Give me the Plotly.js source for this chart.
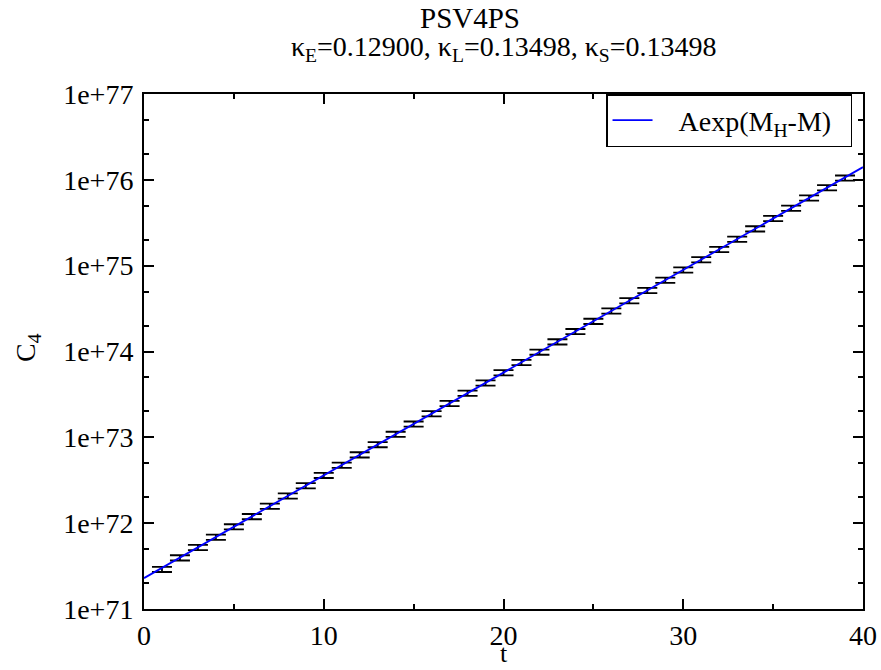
<!DOCTYPE html>
<html>
<head>
<meta charset="utf-8">
<script src="https://cdn.plot.ly/plotly-3.0.1.min.js"></script>
<style>html,body{margin:0;padding:0;background:#fff;}#chart{width:881px;height:670px;}</style>
</head>
<body>
<div id="chart"></div>
<script>
// Measured correlator C4 at each time slice t
const tValues = [1,2,3,4,5,6,7,8,9,10,11,12,13,14,15,16,17,18,19,20,
                 21,22,23,24,25,26,27,28,29,30,31,32,33,34,35,36,37,38,39];
const c4Values = [2.90e71,3.95e71,5.22e71,6.88e71,9.08e71,1.195e72,1.575e72,2.08e72,2.74e72,3.61e72,
                  4.75e72,6.26e72,8.24e72,1.086e73,1.43e73,1.885e73,2.48e73,3.27e73,4.31e73,5.68e73,
                  7.48e73,9.85e73,1.298e74,1.71e74,2.25e74,2.97e74,3.91e74,5.15e74,6.78e74,8.93e74,
                  1.177e75,1.55e75,2.04e75,2.69e75,3.55e75,4.67e75,6.15e75,8.11e75,1.05e76];
// relative error (percent) of each point
const c4ErrPct = [7,7,7,7,7,7,7,7,7,7,7,7,7,7,7,7,7,7,7,7,
                  7,7,7,7,7,7,7,7,7,7,7,7,7,7,7,7,7,7,7];
// Fit curve A exp(M_H - M)
const fitT = [0, 40];
const fitC = [2.29e71, 1.406e76];

// Axis tick labels
const xMajorTicks = [0, 10, 20, 30, 40];
const yMajorTicks = [1e71, 1e72, 1e73, 1e74, 1e75, 1e76, 1e77];
const yMajorText = ['1e+71', '1e+72', '1e+73', '1e+74', '1e+75', '1e+76', '1e+77'];

const serif = 'Liberation Serif';
const errPlus = c4Values.map((v, i) => v * c4ErrPct[i] / 100);
const NB = '\u00a0';

const traces = [
  {
    x: tValues, y: c4Values, type: 'scatter', mode: 'markers',
    marker: {size: 2, color: 'rgba(0,0,0,0)'},
    error_y: {type: 'data', array: errPlus, color: '#000', thickness: 1.8, width: 10, visible: true},
    showlegend: false, hoverinfo: 'x+y'
  },
  {
    x: fitT, y: fitC, type: 'scatter', mode: 'lines',
    line: {color: '#0000ff', width: 1.8},
    name: NB + NB + NB + 'Aexp(M<sub>H</sub>-M)' + NB + NB
  }
];

const layout = {
  width: 881, height: 670,
  margin: {l: 144, r: 18, t: 94, b: 61},
  paper_bgcolor: '#fff', plot_bgcolor: '#fff',
  font: {family: serif, size: 28, color: '#000'},
  xaxis: {
    range: [0, 40], tickmode: 'array', tickvals: xMajorTicks, ticktext: xMajorTicks.map(String),
    showline: true, linecolor: '#000', linewidth: 2, mirror: 'allticks',
    ticks: 'inside', tickcolor: '#000', tickwidth: 1.8, ticklen: 10,
    showgrid: false, zeroline: false,
    tickfont: {family: serif, size: 28, color: '#000'},
    minor: {ticks: 'inside', dtick: 5, tick0: 0, ticklen: 5, tickwidth: 1.8, tickcolor: '#000', showgrid: false}
  },
  yaxis: {
    type: 'log', range: [71, 77], tickmode: 'array', tickvals: yMajorTicks, ticktext: yMajorText,
    showline: true, linecolor: '#000', linewidth: 2, mirror: 'allticks',
    ticks: 'inside', tickcolor: '#000', tickwidth: 1.8, ticklen: 10,
    showgrid: false, zeroline: false, ticklabelstandoff: 3,
    tickfont: {family: serif, size: 28, color: '#000'},
    minor: {ticks: 'inside', ticklen: 5, tickwidth: 1.8, tickcolor: '#000', showgrid: false}
  },
  showlegend: true,
  legend: {
    x: 0.6426, y: 1.0, xanchor: 'left', yanchor: 'top',
    bgcolor: '#fff', bordercolor: '#000', borderwidth: 1.5,
    itemwidth: 40,
    font: {family: serif, size: 28, color: '#000'}
  },
  annotations: [
    {text: 'PSV4PS', xref: 'paper', yref: 'paper', x: 0.4534, y: 1.1476,
     xanchor: 'center', yanchor: 'middle', showarrow: false,
     font: {family: serif, size: 29, color: '#000'}},
    {text: 'κ<sub>E</sub>=0.12900, κ<sub>L</sub>=0.13498, κ<sub>S</sub>=0.13498',
     xref: 'paper', yref: 'paper', x: 0.5, y: 1.0874,
     xanchor: 'center', yanchor: 'middle', showarrow: false,
     font: {family: serif, size: 28, color: '#000'}},
    {text: 't', xref: 'paper', yref: 'paper', x: 0.5, y: -0.1184,
     xanchor: 'center', yanchor: 'bottom', showarrow: false,
     font: {family: serif, size: 26, color: '#000'}},
    {text: 'C<sub>4</sub>', xref: 'paper', yref: 'paper', x: -0.1613, y: 0.5068,
     xanchor: 'center', yanchor: 'middle', showarrow: false, textangle: -90,
     font: {family: serif, size: 28, color: '#000'}}
  ]
};

Plotly.newPlot('chart', traces, layout, {displayModeBar: false});
</script>
</body>
</html>
